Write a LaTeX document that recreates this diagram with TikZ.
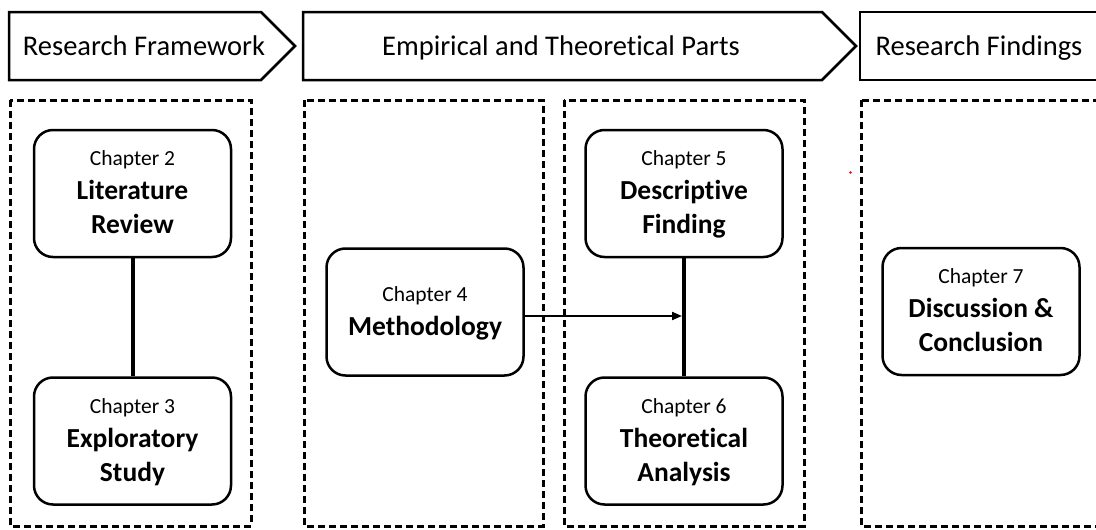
\documentclass[tikz,border=0pt]{standalone}
\usepackage{fontspec}
\setmainfont{Carlito}[Ligatures=NoCommon]
\usetikzlibrary{arrows.meta}

\tikzset{
  banner/.style={draw=black, line width=2.5pt, line join=miter, fill=white},
  bannertext/.style={anchor=base, inner sep=0pt, font=\fontsize{28.5}{34}\selectfont},
  group/.style={draw=black, line width=3pt, dash pattern=on 7pt off 4pt},
  chapter/.style={draw=black, line width=2.5pt, rounded corners=19pt,
    minimum width=197pt, minimum height=127pt, inner sep=0pt,
    align=center, text depth=2pt, fill=white,
    font=\fontsize{27.5}{34}\selectfont},
  link/.style={draw=black, line width=4pt},
  flow/.style={draw=black, line width=2pt, -{Triangle[length=10pt,width=8pt]}}
}
\newcommand{\chap}[1]{{\fontsize{21.5}{26}\selectfont Chapter #1}\\}

\begin{document}
\begin{tikzpicture}[x=1pt, y=-1pt]
  \useasboundingbox (0,0) rectangle (1096,530);
  \clip (0,0) rectangle (1096,530);

  % stage banners
  \draw[banner] (9,12) -- (261,12) -- (295,46) -- (261,80) -- (9,80) -- cycle;
  \draw[banner] (303,12) -- (822,12) -- (856,46) -- (822,80) -- (303,80) -- cycle;
  \draw[banner] (1110,12) -- (860,12) -- (860,80) -- (1110,80);
  \node[bannertext] (bframe) at (144,55) {Research Framework};
  \node[bannertext] (bemp) at (561,55) {Empirical and Theoretical Parts};
  \node[bannertext] (bfind) at (979,55) {Research Findings};

  % dashed groups
  \draw[group] (10,100) rectangle (251,526);
  \draw[group] (304,100) rectangle (543,526);
  \draw[group] (564,100) rectangle (804,526);
  \draw[group] (861,100) rectangle (1110,526);

  % chapters
  \node[chapter] (ch2) at (132.5,193.5) {\chap{2}\bfseries Literature\\\bfseries Review};
  \node[chapter] (ch3) at (132.5,441) {\chap{3}\bfseries Exploratory\\\bfseries Study};
  \node[chapter] (ch4) at (425,312) {\chap{4}\bfseries Methodology};
  \node[chapter] (ch5) at (684,193.5) {\chap{5}\bfseries Descriptive\\\bfseries Finding};
  \node[chapter] (ch6) at (684,441) {\chap{6}\bfseries Theoretical\\\bfseries Analysis};
  \node[chapter] (ch7) at (981,311.5) {\chap{7}\bfseries Discussion \&\\\bfseries Conclusion};

  % connectors
  \draw[link] (ch2) -- (ch3);
  \draw[link] (ch5) -- (ch6);
  \coordinate (junc) at (682,316);
  \draw[flow] (ch4.east |- junc) -- (junc);

  % stray mark
  \fill[red] (850.5,172.5) circle (1.4pt);
\end{tikzpicture}
\end{document}
